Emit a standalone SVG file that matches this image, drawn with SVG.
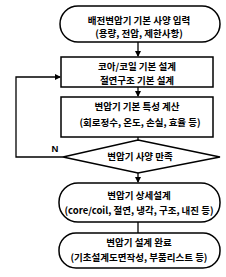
<svg xmlns="http://www.w3.org/2000/svg" width="226" height="277" viewBox="0 0 226 277">
<defs>
<marker id="ah" markerWidth="6" markerHeight="6" refX="5" refY="3" orient="auto" markerUnits="userSpaceOnUse"><path d="M0,0 L6,3 L0,6 z" fill="#000"/></marker>
<style>
.s{fill:#fff;stroke:#000;stroke-width:1.5}
.t{font-family:"Noto Sans CJK KR","Noto Sans",sans-serif;font-size:9.5px;font-weight:bold;text-anchor:middle;fill:#000}
.c{fill:none;stroke:#000;stroke-width:1.3}
</style>
</defs>
<rect width="226" height="277" fill="#fff"/>
<g id="connectors">
<line class="c" x1="138" y1="42" x2="138" y2="56" marker-end="url(#ah)"/>
<line class="c" x1="138" y1="87" x2="138" y2="96" marker-end="url(#ah)"/>
<line class="c" x1="138" y1="137" x2="138" y2="140"/>
<line class="c" x1="138" y1="173" x2="138" y2="182" marker-end="url(#ah)"/>
<line class="c" x1="138" y1="222" x2="138" y2="233"/>
<polyline class="c" points="63,157 16,157 16,77 60,77" marker-end="url(#ah)"/>
<text class="t" x="55" y="152" style="font-family:'Liberation Sans',sans-serif">N</text>
</g>
<g id="n1">
<rect class="s" x="60" y="6" width="160" height="36" rx="18"/>
<text class="t" x="139" y="24">배전변압기 기본 사양 입력</text>
<text class="t" x="139" y="37">(용량, 전압, 제한사항)</text>
</g>
<g id="n2">
<rect class="s" x="61" y="57" width="152" height="30"/>
<text class="t" x="137" y="70">코아/코일 기본 설계</text>
<text class="t" x="137" y="84">절연구조 기본 설계</text>
</g>
<g id="n3">
<rect class="s" x="61" y="97" width="152" height="40"/>
<text class="t" x="137" y="110">변압기 기본 특성 계산</text>
<text class="t" x="140" y="126">(회로정수, 온도, 손실, 효율 등)</text>
</g>
<g id="n4">
<polygon class="s" points="138,140 220,157 138,173 63,157"/>
<text class="t" x="140" y="160">변압기 사양 만족</text>
</g>
<g id="n5">
<rect class="s" x="59" y="183" width="161" height="39" rx="19"/>
<text class="t" x="139" y="199">변압기 상세설계</text>
<text class="t" x="139" y="214">(core/coil, 절연, 냉각, 구조, 내진 등)</text>
</g>
<g id="n6">
<rect class="s" x="59" y="233" width="161" height="35" rx="17"/>
<text class="t" x="139" y="246">변압기 설계 완료</text>
<text class="t" x="139" y="261">(기초설계도면작성, 부품리스트 등)</text>
</g>
</svg>
